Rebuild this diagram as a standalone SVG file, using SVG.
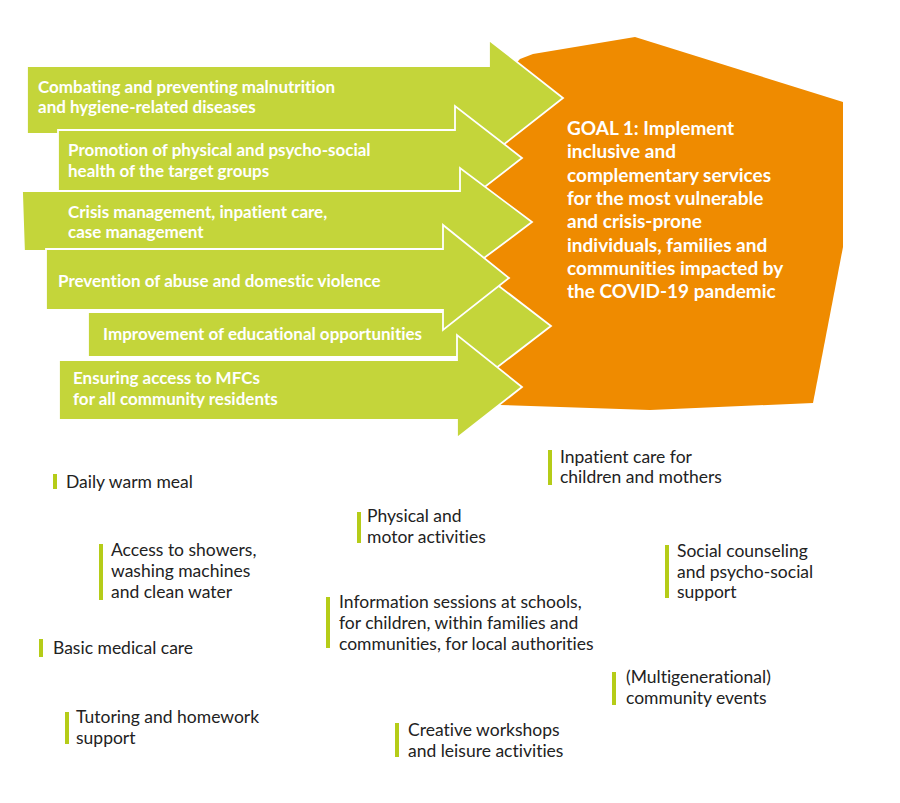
<svg xmlns="http://www.w3.org/2000/svg" width="900" height="803" viewBox="0 0 900 803">
<style>
text{font-variant-ligatures:none;font-feature-settings:"liga" 0}
.arrow{fill:#C4D53A;stroke:#FFFFFF;stroke-width:1.8;stroke-linejoin:miter}
.at{font-family:Lato,"Open Sans",sans-serif;font-weight:700;font-size:17px;fill:#FFFFFF}
.goal{font-family:Lato,"Open Sans",sans-serif;font-weight:700;font-size:19px;fill:#FFFFFF}
.it{font-family:Lato,"Open Sans",sans-serif;font-size:17.5px;fill:#222222}
.bar{fill:#B5CC18}
</style>
<rect width="900" height="803" fill="#FFFFFF"/>
<g id="goal">
<polygon points="510,70 520,59 533,54 635,37 843,102 843,247 813,403 650,410 500,405 470,404 470,120" fill="#EF8B00"/>
<text class="goal"><tspan x="567" y="135">GOAL 1: Implement</tspan><tspan x="567" y="158.3">inclusive and</tspan><tspan x="567" y="181.6">complementary services</tspan><tspan x="567" y="204.9">for the most vulnerable</tspan><tspan x="567" y="228.2">and crisis-prone</tspan><tspan x="567" y="251.5">individuals, families and</tspan><tspan x="567" y="274.8">communities impacted by</tspan><tspan x="567" y="298.1">the COVID-19 pandemic</tspan></text>
</g>
<g id="connectors">
<g id="arrow1"><polygon class="arrow" points="27,66 489,66 489,40 563,98 489,156 489,134 27,134"/>
<text class="at"><tspan x="38" y="93">Combating and preventing malnutrition</tspan><tspan x="38" y="113">and hygiene-related diseases</tspan></text></g>
<g id="arrow2"><polygon class="arrow" points="58,130 455,130 455,106 522,158 455,210 455,191 58,191"/>
<text class="at"><tspan x="68" y="156">Promotion of physical and psycho-social</tspan><tspan x="68" y="177">health of the target groups</tspan></text></g>
<g id="arrow3"><polygon class="arrow" points="22,191 460,191 460,168 532,222 460,276 460,251 24,251"/>
<text class="at"><tspan x="68" y="218">Crisis management, inpatient care,</tspan><tspan x="68" y="238">case management</tspan></text></g>
<g id="arrow5"><polygon class="arrow" points="88,312 465,312 465,260 551,326 465,392 465,357 88,357"/>
<text class="at" x="103" y="340">Improvement of educational opportunities</text></g>
<g id="arrow4"><polygon class="arrow" points="46,249 443,249 443,225 509,278 443,330 443,310 46,310"/>
<text class="at" x="58" y="287">Prevention of abuse and domestic violence</text></g>
<g id="arrow6"><polygon class="arrow" points="59,360 457,360 457,335 522,387 457,438 457,420 59,420"/>
<text class="at"><tspan x="73" y="384">Ensuring access to MFCs</tspan><tspan x="73" y="405">for all community residents</tspan></text></g>
</g>
<g id="item-meal"><rect class="bar" x="53" y="474" width="4" height="15"/><text class="it" x="66" y="488">Daily warm meal</text></g>
<g id="item-showers"><rect class="bar" x="99" y="544" width="4" height="56"/><text class="it"><tspan x="111" y="556">Access to showers,</tspan><tspan x="111" y="577">washing machines</tspan><tspan x="111" y="598">and clean water</tspan></text></g>
<g id="item-medical"><rect class="bar" x="39" y="639" width="4" height="18"/><text class="it" x="53" y="654">Basic medical care</text></g>
<g id="item-tutoring"><rect class="bar" x="65" y="712" width="4" height="32"/><text class="it"><tspan x="76" y="723">Tutoring and homework</tspan><tspan x="76" y="744">support</tspan></text></g>
<g id="item-physical"><rect class="bar" x="357" y="512" width="4" height="31"/><text class="it"><tspan x="367" y="522">Physical and</tspan><tspan x="367" y="543">motor activities</tspan></text></g>
<g id="item-info"><rect class="bar" x="326" y="597" width="4" height="51"/><text class="it"><tspan x="339" y="608">Information sessions at schools,</tspan><tspan x="339" y="629">for children, within families and</tspan><tspan x="339" y="650">communities, for local authorities</tspan></text></g>
<g id="item-inpatient"><rect class="bar" x="548" y="450" width="4" height="35"/><text class="it"><tspan x="560" y="463">Inpatient care for</tspan><tspan x="560" y="483">children and mothers</tspan></text></g>
<g id="item-social"><rect class="bar" x="665" y="545" width="4" height="53"/><text class="it"><tspan x="677" y="557">Social counseling</tspan><tspan x="677" y="578">and psycho-social</tspan><tspan x="677" y="598">support</tspan></text></g>
<g id="item-events"><rect class="bar" x="612" y="672" width="4" height="33"/><text class="it"><tspan x="626" y="683">(Multigenerational)</tspan><tspan x="626" y="704">community events</tspan></text></g>
<g id="item-creative"><rect class="bar" x="395" y="723" width="4" height="34"/><text class="it"><tspan x="408" y="736">Creative workshops</tspan><tspan x="408" y="757">and leisure activities</tspan></text></g>
</svg>
